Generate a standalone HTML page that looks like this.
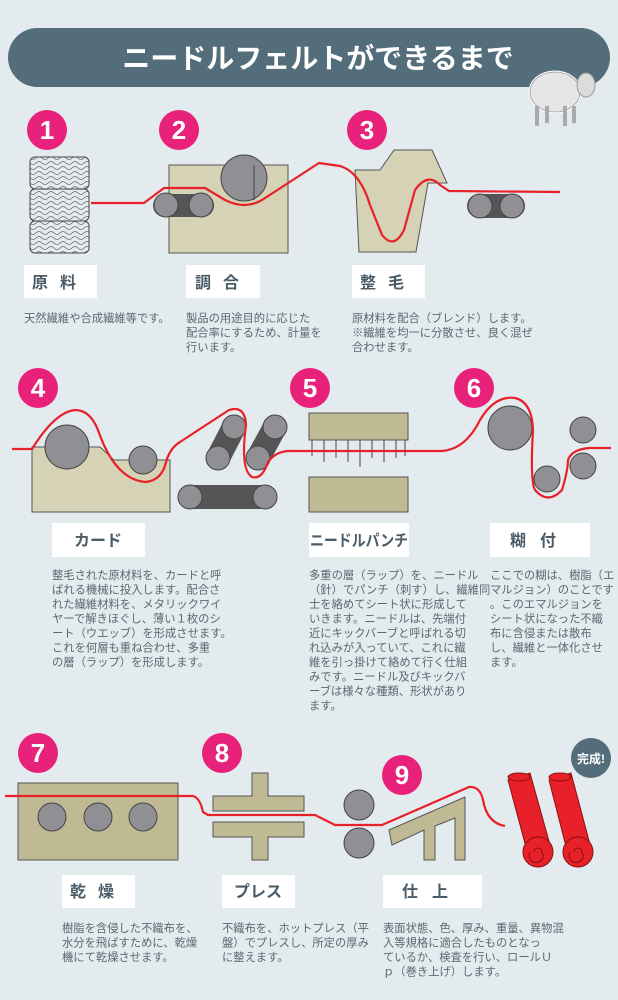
<!DOCTYPE html>
<html><head><meta charset="utf-8"><style>
html,body{margin:0;padding:0;background:#e4ebee;}
svg{display:block;font-family:"Liberation Sans","Noto Sans CJK JP",sans-serif;}
.d{font-size:11.3px;fill:#5a6872;}
.l{font-size:16px;font-weight:bold;fill:#4a5c68;}
.n{font-size:26px;font-weight:bold;fill:#fff;}
.beige{fill:#d6d2b5;stroke:#555;stroke-width:1;}
.beige2{fill:#c0ba94;stroke:#555;stroke-width:1;}
.roll{fill:#8f8f94;stroke:#444;stroke-width:1;}
.red{fill:none;stroke:#e8202a;stroke-width:2.2;stroke-linejoin:round;}
</style></head><body>
<svg width="618" height="1000" viewBox="0 0 618 1000">
<rect width="618" height="1000" fill="#e4ebee"/>
<rect x="8" y="28" width="602" height="59" rx="29.5" fill="#536d7b"/>
<text x="318" y="68" font-size="28" font-weight="bold" fill="#fff" text-anchor="middle">ニードルフェルトができるまで</text>
<g>
<ellipse cx="555" cy="92" rx="25" ry="20" fill="#eeeeee" stroke="#fff" stroke-width="3"/>
<ellipse cx="555" cy="92" rx="25" ry="20" fill="#e6e6e6" stroke="#999" stroke-width="0.8"/>
<ellipse cx="586" cy="85" rx="9" ry="12" fill="#dcdcdc" stroke="#999"/>
<rect x="535" y="106" width="4" height="20" fill="#aaa"/><rect x="545" y="106" width="4" height="17" fill="#aaa"/>
<rect x="563" y="106" width="4" height="20" fill="#aaa"/><rect x="572" y="106" width="4" height="17" fill="#aaa"/>
</g>

<circle cx="47" cy="130" r="20" fill="#e8217a"/><text class="n" x="47" y="139" text-anchor="middle">1</text>
<circle cx="179" cy="130" r="20" fill="#e8217a"/><text class="n" x="179" y="139" text-anchor="middle">2</text>
<circle cx="367" cy="130" r="20" fill="#e8217a"/><text class="n" x="367" y="139" text-anchor="middle">3</text>

<defs><pattern id="wv" width="12" height="5" patternUnits="userSpaceOnUse"><path d="M0 3 Q3 0 6 3 T12 3" fill="none" stroke="#666" stroke-width="0.8"/></pattern></defs>
<rect x="30" y="157" width="59" height="32" rx="5" fill="url(#wv)" stroke="#444"/>
<rect x="30" y="189" width="59" height="32" rx="5" fill="url(#wv)" stroke="#444"/>
<rect x="30" y="221" width="59" height="32" rx="5" fill="url(#wv)" stroke="#444"/>
<rect x="169" y="165" width="119" height="88" class="beige"/>
<circle cx="244" cy="178" r="23" class="roll"/>
<line x1="254" y1="165" x2="254" y2="200" stroke="#444"/>
<rect x="153" y="194" width="61" height="23" rx="11.5" fill="#555"/>
<circle cx="166" cy="205" r="12" class="roll"/><circle cx="201" cy="205" r="12" class="roll"/>
<polygon points="355,170 380,170 394,150 432,150 447,183 428,183 416,252 359,252" class="beige"/>
<rect x="467" y="194" width="58" height="24" rx="12" fill="#555"/>
<circle cx="480" cy="206" r="12" class="roll"/><circle cx="512" cy="206" r="12" class="roll"/>
<path class="red" d="M91 203 L144 203 L164 188 L205 188 L225 200 Q245 210 262 200 L319 163 L340 166 Q360 172 370 205 L382 235 Q394 250 404 230 L415 190 Q428 172 440 185 L449 191 L560 192"/>

<rect x="24" y="265" width="73" height="33" fill="#fff"/><text class="l" x="60" y="288" text-anchor="middle" letter-spacing="12">原料</text>
<rect x="186" y="265" width="74" height="33" fill="#fff"/><text class="l" x="223" y="288" text-anchor="middle" letter-spacing="12">調合</text>
<rect x="352" y="265" width="73" height="33" fill="#fff"/><text class="l" x="388" y="288" text-anchor="middle" letter-spacing="12">整毛</text>
<text class="d" x="24" y="322">天然繊維や合成繊維等です。</text>
<text class="d" x="186" y="322">製品の用途目的に応じた<tspan x="186" dy="14.5">配合率にするため、計量を</tspan><tspan x="186" dy="14.5">行います。</tspan></text>
<text class="d" x="352" y="322">原材料を配合（ブレンド）します。<tspan x="352" dy="14.5">※繊維を均一に分散させ、良く混ぜ</tspan><tspan x="352" dy="14.5">合わせます。</tspan></text>

<circle cx="38" cy="388" r="20" fill="#e8217a"/><text class="n" x="38" y="397" text-anchor="middle">4</text>
<circle cx="310" cy="388" r="20" fill="#e8217a"/><text class="n" x="310" y="397" text-anchor="middle">5</text>
<circle cx="474" cy="388" r="20" fill="#e8217a"/><text class="n" x="474" y="397" text-anchor="middle">6</text>
<polygon points="32,447 100,447 114,460 170,460 170,512 32,512" class="beige"/>
<circle cx="67" cy="447" r="22" class="roll"/>
<circle cx="143" cy="460" r="14" class="roll"/>
<line x1="234" y1="427" x2="218" y2="458" stroke="#555" stroke-width="24" stroke-linecap="round"/>
<circle cx="234" cy="427" r="12" class="roll"/><circle cx="218" cy="458" r="12" class="roll"/>
<line x1="275" y1="427" x2="258" y2="458" stroke="#555" stroke-width="24" stroke-linecap="round"/>
<circle cx="275" cy="427" r="12" class="roll"/><circle cx="258" cy="458" r="12" class="roll"/>
<rect x="178" y="485" width="99" height="24" rx="12" fill="#555"/>
<circle cx="190" cy="497" r="12" class="roll"/><circle cx="265" cy="497" r="12" class="roll"/>
<rect x="309" y="413" width="99" height="27" class="beige2"/>
<g stroke="#444" stroke-width="1">
<line x1="312" y1="440" x2="312" y2="456"/><line x1="324" y1="440" x2="324" y2="462"/><line x1="336" y1="440" x2="336" y2="458"/><line x1="348" y1="440" x2="348" y2="462"/><line x1="360" y1="440" x2="360" y2="467"/><line x1="372" y1="440" x2="372" y2="458"/><line x1="384" y1="440" x2="384" y2="462"/><line x1="396" y1="440" x2="396" y2="458"/><line x1="405" y1="440" x2="405" y2="456"/>
</g>
<rect x="309" y="477" width="99" height="35" class="beige2"/>
<circle cx="510" cy="428" r="22" class="roll"/>
<circle cx="583" cy="430" r="13" class="roll"/>
<circle cx="547" cy="479" r="13" class="roll"/>
<circle cx="583" cy="466" r="13" class="roll"/>
<path class="red" d="M12 449 L32 449 Q55 412 75 410 Q90 410 98 430 Q115 480 146 482 Q162 480 166 462 Q170 448 180 442 L229 410 Q245 405 246 425 Q240 470 252 477 Q262 480 268 462 Q276 451 290 451 L441 451 Q465 450 480 420 Q495 395 515 398 Q532 402 533 430 Q530 480 535 490 Q548 505 562 490 Q568 470 568 460 Q572 449 590 448 L611 448"/>

<rect x="52" y="523" width="93" height="34" fill="#fff"/><text class="l" x="98" y="546" text-anchor="middle">カード</text>
<rect x="309" y="523" width="100" height="34" fill="#fff"/><text class="l" x="359" y="546" text-anchor="middle" textLength="98" lengthAdjust="spacingAndGlyphs">ニードルパンチ</text>
<rect x="490" y="523" width="100" height="34" fill="#fff"/><text class="l" x="540" y="546" text-anchor="middle" letter-spacing="14">糊付</text>
<text class="d" x="52" y="579">整毛された原材料を、カードと呼<tspan x="52" dy="14.5">ばれる機械に投入します。配合さ</tspan><tspan x="52" dy="14.5">れた繊維材料を、メタリックワイ</tspan><tspan x="52" dy="14.5">ヤーで解きほぐし、薄い１枚のシ</tspan><tspan x="52" dy="14.5">ート（ウエッブ）を形成させます。</tspan><tspan x="52" dy="14.5">これを何層も重ね合わせ、多重</tspan><tspan x="52" dy="14.5">の層（ラップ）を形成します。</tspan></text>
<text class="d" x="309" y="579">多重の層（ラップ）を、ニードル<tspan x="309" dy="14.5">（針）でパンチ（刺す）し、繊維同</tspan><tspan x="309" dy="14.5">士を絡めてシート状に形成して</tspan><tspan x="309" dy="14.5">いきます。ニードルは、先端付</tspan><tspan x="309" dy="14.5">近にキックバーブと呼ばれる切</tspan><tspan x="309" dy="14.5">れ込みが入っていて、これに繊</tspan><tspan x="309" dy="14.5">維を引っ掛けて絡めて行く仕組</tspan><tspan x="309" dy="14.5">みです。ニードル及びキックバ</tspan><tspan x="309" dy="14.5">ーブは様々な種類、形状があり</tspan><tspan x="309" dy="14.5">ます。</tspan></text>
<text class="d" x="490" y="579">ここでの糊は、樹脂（エ<tspan x="490" dy="14.5">マルジョン）のことです</tspan><tspan x="490" dy="14.5">。このエマルジョンを</tspan><tspan x="490" dy="14.5">シート状になった不織</tspan><tspan x="490" dy="14.5">布に含侵または散布</tspan><tspan x="490" dy="14.5">し、繊維と一体化させ</tspan><tspan x="490" dy="14.5">ます。</tspan></text>

<circle cx="38" cy="753" r="20" fill="#e8217a"/><text class="n" x="38" y="762" text-anchor="middle">7</text>
<circle cx="222" cy="753" r="20" fill="#e8217a"/><text class="n" x="222" y="762" text-anchor="middle">8</text>
<circle cx="402" cy="775" r="20" fill="#e8217a"/><text class="n" x="402" y="784" text-anchor="middle">9</text>
<circle cx="591" cy="758" r="20" fill="#536d7b"/><text x="591" y="763" font-size="12" font-weight="bold" fill="#fff" text-anchor="middle">完成!</text>
<rect x="18" y="783" width="160" height="77" class="beige2"/>
<circle cx="52" cy="817" r="14" class="roll"/><circle cx="98" cy="817" r="14" class="roll"/><circle cx="143" cy="817" r="14" class="roll"/>
<polygon points="252,773 268,773 268,796 304,796 304,811 213,811 213,796 252,796" class="beige2"/>
<polygon points="213,822 304,822 304,837 268,837 268,860 252,860 252,837 213,837" class="beige2"/>
<circle cx="359" cy="805" r="15" class="roll"/><circle cx="359" cy="843" r="15" class="roll"/>
<polygon points="389,830 465,797 465,860 455,860 455,818 435,826 435,860 424,860 424,830 392,845" class="beige2"/>
<g fill="#e8202a" stroke="#8a1010" stroke-width="1">
<polygon points="508,780 530,773 552,852 530,862"/>
<circle cx="538" cy="852" r="15"/>
<polygon points="549,780 571,773 592,852 570,862"/>
<circle cx="578" cy="852" r="15"/>
<ellipse cx="519" cy="777" rx="11" ry="4"/><ellipse cx="560" cy="777" rx="11" ry="4"/>
</g>
<g fill="none" stroke="#8a1010" stroke-width="1"><path d="M538 852 m-4 0 a4 4 0 1 1 8 0 a7 7 0 1 1 -12 0"/><path d="M578 852 m-4 0 a4 4 0 1 1 8 0 a7 7 0 1 1 -12 0"/></g>
<path class="red" d="M5 796 L193 796 Q200 798 203 812 L208 815 L315 815 L335 825 L382 825 L469 787 Q480 786 483 800 Q487 823 505 826"/>

<rect x="62" y="875" width="73" height="33" fill="#fff"/><text class="l" x="98" y="897" text-anchor="middle" letter-spacing="12">乾燥</text>
<rect x="222" y="875" width="73" height="33" fill="#fff"/><text class="l" x="258" y="897" text-anchor="middle">プレス</text>
<rect x="383" y="875" width="99" height="33" fill="#fff"/><text class="l" x="432" y="897" text-anchor="middle" letter-spacing="14">仕上</text>
<text class="d" x="62" y="932">樹脂を含侵した不織布を、<tspan x="62" dy="14.5">水分を飛ばすために、乾燥</tspan><tspan x="62" dy="14.5">機にて乾燥させます。</tspan></text>
<text class="d" x="222" y="932">不織布を、ホットプレス（平<tspan x="222" dy="14.5">盤）でプレスし、所定の厚み</tspan><tspan x="222" dy="14.5">に整えます。</tspan></text>
<text class="d" x="383" y="932">表面状態、色、厚み、重量、異物混<tspan x="383" dy="14.5">入等規格に適合したものとなっ</tspan><tspan x="383" dy="14.5">ているか、検査を行い、ロールＵ</tspan><tspan x="383" dy="14.5">ｐ（巻き上げ）します。</tspan></text>
</svg>
</body></html>
